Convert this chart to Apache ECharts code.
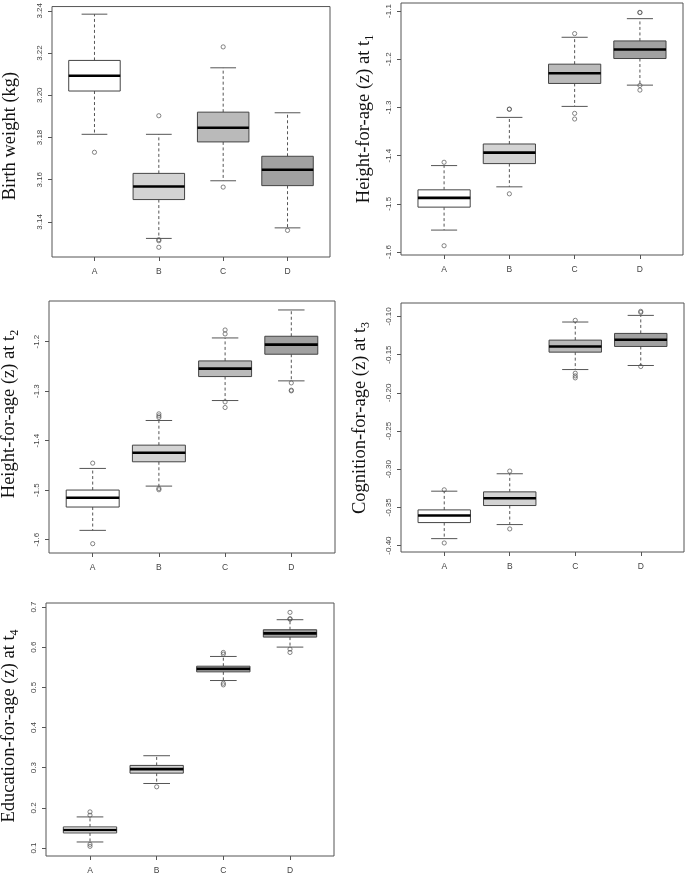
<!DOCTYPE html>
<html>
<head>
<meta charset="utf-8">
<script src="https://cdn.jsdelivr.net/npm/echarts@6/dist/echarts.min.js"></script>
<style>
html,body{margin:0;padding:0;background:#fff;}
#chart{width:685px;height:875px;}
</style>
</head>
<body>
<div id="chart"></div>
<script>
// ---- Data ----
const categories = ['A', 'B', 'C', 'D'];

// each row: [group position, lower whisker, Q1, median, Q3, upper whisker]
const birthWeight = [
  [1, 3.1815, 3.2020, 3.2092, 3.2165, 3.2384],
  [2, 3.1322, 3.1506, 3.1568, 3.1630, 3.1815],
  [3, 3.1595, 3.1779, 3.1846, 3.1920, 3.2130],
  [4, 3.1372, 3.1572, 3.1647, 3.1711, 3.1917]
];
const birthWeightOutliers = [
  [1, 3.1730], [2, 3.1903], [2, 3.1316], [2, 3.1311], [2, 3.1280],
  [3, 3.2229], [3, 3.1565], [4, 3.1360]
];
const birthWeightTicks = [3.14, 3.16, 3.18, 3.20, 3.22, 3.24];

const hfaT1 = [
  [1, -1.5545, -1.5069, -1.4876, -1.4710, -1.4207],
  [2, -1.4648, -1.4166, -1.3938, -1.3759, -1.3207],
  [3, -1.2979, -1.2503, -1.2290, -1.2103, -1.1545],
  [4, -1.2538, -1.1986, -1.1800, -1.1621, -1.1159]
];
const hfaT1Outliers = [
  [1, -1.4138], [1, -1.5870],
  [2, -1.3034], [2, -1.3040], [2, -1.4793],
  [3, -1.1469], [3, -1.3124], [3, -1.3241],
  [4, -1.1028], [4, -1.1034], [4, -1.2545], [4, -1.2641]
];
const hfaT1Ticks = [-1.6, -1.5, -1.4, -1.3, -1.2, -1.1];

const hfaT2 = [
  [1, -1.5812, -1.5341, -1.5153, -1.4998, -1.4561],
  [2, -1.4918, -1.4427, -1.4245, -1.4091, -1.3593],
  [3, -1.3190, -1.2706, -1.2545, -1.2390, -1.1926],
  [4, -1.2793, -1.2255, -1.2060, -1.1892, -1.1361]
];
const hfaT2Outliers = [
  [1, -1.4454], [1, -1.6081],
  [2, -1.3459], [2, -1.3500], [2, -1.3533], [2, -1.4965], [2, -1.4992],
  [3, -1.1765], [3, -1.1845], [3, -1.3217], [3, -1.3331],
  [4, -1.2834], [4, -1.2981], [4, -1.2995]
];
const hfaT2Ticks = [-1.6, -1.5, -1.4, -1.3, -1.2];

const cfaT3 = [
  [1, -0.3909, -0.3699, -0.3607, -0.3533, -0.3288],
  [2, -0.3725, -0.3476, -0.3380, -0.3297, -0.3060],
  [3, -0.1696, -0.1468, -0.1394, -0.1311, -0.1074],
  [4, -0.1643, -0.1394, -0.1306, -0.1223, -0.0987]
];
const cfaT3Outliers = [
  [1, -0.3270], [1, -0.3966],
  [2, -0.3025], [2, -0.3782],
  [3, -0.1052], [3, -0.1744], [3, -0.1779], [3, -0.1805],
  [4, -0.0934], [4, -0.0948], [4, -0.1656]
];
const cfaT3Ticks = [-0.40, -0.35, -0.30, -0.25, -0.20, -0.15, -0.10];

const efaT4 = [
  [1, 0.1151, 0.1376, 0.1451, 0.1526, 0.1775],
  [2, 0.2607, 0.2865, 0.2965, 0.3057, 0.3298],
  [3, 0.5170, 0.5386, 0.5461, 0.5527, 0.5769],
  [4, 0.6002, 0.6251, 0.6343, 0.6434, 0.6684]
];
const efaT4Outliers = [
  [1, 0.1900], [1, 0.1817], [1, 0.1093], [1, 0.1043],
  [2, 0.2524],
  [3, 0.5869], [3, 0.5827], [3, 0.5103], [3, 0.5062],
  [4, 0.6867], [4, 0.6710], [4, 0.6697], [4, 0.5952], [4, 0.5869]
];
const efaT4Ticks = [0.1, 0.2, 0.3, 0.4, 0.5, 0.6, 0.7];

const xPositions = [1, 2, 3, 4];

// ---- Styles ----
const boxFills = ['#ffffff', '#d3d3d3', '#bababa', '#a1a1a1'];
const frameColor = '#555';
const tickFont = 'Liberation Sans';
const titleFont = 'Liberation Serif';

const panels = [
  { rect: [52, 5, 278, 252], y: [3.1234, 3.2420], ticks: birthWeightTicks, dec: 2, boxes: birthWeight, out: birthWeightOutliers,
    title: '{m|Birth weight (kg)}', tpos: [10, 136] },
  { rect: [401, 3, 282, 252], y: [-1.6062, -1.0834], ticks: hfaT1Ticks, dec: 1, boxes: hfaT1, out: hfaT1Outliers,
    title: '{m|Height-for-age (z) at t}{s|1}', tpos: [364, 119] },
  { rect: [49, 301, 286, 252], y: [-1.6269, -1.1180], ticks: hfaT2Ticks, dec: 1, boxes: hfaT2, out: hfaT2Outliers,
    title: '{m|Height-for-age (z) at t}{s|2}', tpos: [9, 414] },
  { rect: [401, 303, 283, 249], y: [-0.4084, -0.0825], ticks: cfaT3Ticks, dec: 2, boxes: cfaT3, out: cfaT3Outliers,
    title: '{m|Cognition-for-age (z) at t}{s|3}', tpos: [360, 418] },
  { rect: [46, 603, 288, 253], y: [0.0802, 0.7100], ticks: efaT4Ticks, dec: 1, boxes: efaT4, out: efaT4Outliers,
    title: '{m|Education-for-age (z) at t}{s|4}', tpos: [9, 726] }
];

function renderBox(params, api) {
  const x = api.value(0);
  const lo = api.value(1), q1 = api.value(2), med = api.value(3), q3 = api.value(4), hi = api.value(5);
  const cx = api.coord([x, med])[0];
  const halfW = api.size([0.4, 0])[0];
  const capW = api.size([0.2, 0])[0];
  const yLo = api.coord([x, lo])[1];
  const yQ1 = api.coord([x, q1])[1];
  const yMed = api.coord([x, med])[1];
  const yQ3 = api.coord([x, q3])[1];
  const yHi = api.coord([x, hi])[1];
  const fill = boxFills[Math.round(x) - 1];
  const dashStyle = { stroke: '#555', lineWidth: 1, lineDash: [3, 2.5] };
  const solid = { stroke: '#555', lineWidth: 1 };
  return {
    type: 'group',
    children: [
      { type: 'line', shape: { x1: cx, y1: yQ3, x2: cx, y2: yHi }, style: dashStyle },
      { type: 'line', shape: { x1: cx, y1: yQ1, x2: cx, y2: yLo }, style: dashStyle },
      { type: 'line', shape: { x1: cx - capW, y1: yHi, x2: cx + capW, y2: yHi }, style: solid },
      { type: 'line', shape: { x1: cx - capW, y1: yLo, x2: cx + capW, y2: yLo }, style: solid },
      { type: 'rect', shape: { x: cx - halfW, y: yQ3, width: 2 * halfW, height: yQ1 - yQ3 },
        style: { fill: fill, stroke: '#444', lineWidth: 1 } },
      { type: 'line', shape: { x1: cx - halfW, y1: yMed, x2: cx + halfW, y2: yMed },
        style: { stroke: '#000', lineWidth: 2.6 } }
    ]
  };
}

const grid = [], xAxis = [], yAxis = [], series = [], graphic = [];
panels.forEach((p, i) => {
  grid.push({ left: p.rect[0], top: p.rect[1], width: p.rect[2], height: p.rect[3],
    show: true, borderColor: frameColor, borderWidth: 1, backgroundColor: 'transparent' });
  xAxis.push({
    gridIndex: i, type: 'value', min: 0.34, max: 4.66,
    axisLine: { show: false },
    splitLine: { show: false },
    axisTick: { show: true, length: 4, customValues: xPositions, lineStyle: { color: frameColor } },
    axisLabel: { show: true, customValues: xPositions, formatter: v => categories[Math.round(v) - 1],
      fontFamily: tickFont, fontSize: 8.5, color: '#444', margin: 10 }
  });
  yAxis.push({
    gridIndex: i, type: 'value', min: p.y[0], max: p.y[1],
    axisLine: { show: false },
    splitLine: { show: false },
    axisTick: { show: true, length: 4, customValues: p.ticks, lineStyle: { color: frameColor } },
    axisLabel: { show: true, customValues: p.ticks, rotate: 90, formatter: v => v.toFixed(p.dec),
      fontFamily: tickFont, fontSize: 8, color: '#444', margin: 8 }
  });
  series.push({
    type: 'custom', xAxisIndex: i, yAxisIndex: i, renderItem: renderBox,
    encode: { x: 0, y: [1, 2, 3, 4, 5] }, data: p.boxes, silent: true, clip: false
  });
  series.push({
    type: 'scatter', xAxisIndex: i, yAxisIndex: i, data: p.out, symbol: 'circle', symbolSize: 4.2,
    itemStyle: { color: 'rgba(255,255,255,0)', borderColor: '#555', borderWidth: 0.9 }, silent: true
  });
  graphic.push({
    type: 'text', x: p.tpos[0], y: p.tpos[1], rotation: Math.PI / 2,
    style: {
      text: p.title,
      align: 'center', verticalAlign: 'middle',
      textAlign: 'center', textVerticalAlign: 'middle',
      fill: '#111',
      rich: {
        m: { fontFamily: titleFont, fontSize: 18.5, lineHeight: 24, fill: '#111', color: '#111' },
        s: { fontFamily: titleFont, fontSize: 12, lineHeight: 12, verticalAlign: 'bottom', fill: '#111', color: '#111' }
      }
    }
  });
});

const chart = echarts.init(document.getElementById('chart'), null, { renderer: 'canvas' });
chart.setOption({
  backgroundColor: '#ffffff',
  animation: false,
  grid, xAxis, yAxis, series, graphic
});
</script>
</body>
</html>
